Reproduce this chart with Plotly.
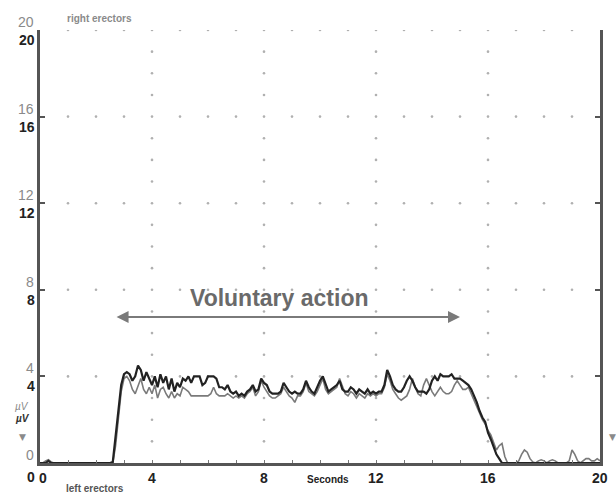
import numpy as np
import plotly.graph_objects as go

# ---- data (EMG amplitude, µV, sampled every 0.1 s from 0 to 20 s) ----
step = 0.1
black_vals = [
    0, 0, 0, 0.1, 0, 0, 0, 0, 0, 0,
    0, 0, 0, 0, 0, 0, 0, 0, 0, 0,
    0, 0, 0, 0, 0, 0, 0.05, 1.2, 2.6, 3.6,
    4.1, 4.2, 4.1, 3.8, 4.0, 4.5, 4.3, 3.8, 4.2, 3.9,
    3.6, 4.0, 3.5, 4.1, 3.7, 4.0, 3.4, 3.9, 3.3, 3.7,
    3.5, 3.9, 3.8, 4.0, 3.7, 4.0, 4.0, 4.0, 3.6, 3.7,
    4.0, 4.0, 4.0, 3.9, 3.5, 3.5, 3.4, 3.6, 3.3, 3.2,
    3.3, 3.1, 3.2, 3.1, 3.3, 3.4, 3.6, 3.3, 3.4, 3.9,
    3.7, 3.6, 3.3, 3.2, 3.2, 3.2, 3.3, 3.7, 3.5, 3.3,
    3.2, 3.3, 3.2, 3.2, 3.4, 3.8, 3.5, 3.3, 3.2, 3.5,
    3.8, 4.0, 3.6, 3.3, 3.4, 3.5, 3.6, 3.8, 3.4, 3.3,
    3.3, 3.5, 3.4, 3.2, 3.4, 3.3, 3.2, 3.4, 3.2, 3.3,
    3.2, 3.3, 3.3, 3.6, 4.3, 4.0, 3.6, 3.4, 3.3, 3.3,
    3.5, 3.8, 4.0, 3.8, 3.5, 3.3, 3.3, 3.3, 3.2, 3.4,
    3.8, 4.0, 3.8, 4.1, 4.0, 4.0, 4.0, 4.1, 3.9, 3.9,
    3.9, 3.8, 3.7, 3.6, 3.4, 3.1, 2.8, 2.4, 2.1, 1.9,
    1.4, 1.1, 0.7, 0.4, 0.2, 0, 0, 0, 0, 0,
    0, 0, 0, 0, 0, 0, 0, 0, 0, 0,
    0, 0, 0, 0, 0, 0, 0, 0, 0, 0,
    0, 0, 0, 0, 0, 0, 0, 0, 0, 0,
    0,
]
gray_vals = [
    0, 0, 0.1, 0.15, 0.05, 0, 0, 0, 0, 0,
    0, 0, 0, 0, 0, 0, 0, 0, 0, 0,
    0, 0, 0, 0, 0, 0, 0, 0.8, 2.2, 3.3,
    3.9, 4.0, 3.8, 3.4, 3.2, 3.6, 3.9, 3.4, 3.2, 3.5,
    3.2, 3.6, 3.0, 3.4, 3.5, 3.2, 3.0, 3.3, 3.0, 3.2,
    3.1, 3.5, 3.4, 3.3, 3.1, 3.1, 3.1, 3.1, 3.1, 3.1,
    3.1, 3.2, 3.5, 3.2, 3.1, 3.1, 3.1, 3.2, 3.1, 3.0,
    3.1, 3.0, 3.1, 3.0, 3.2, 3.3, 3.5, 3.1, 3.3, 3.8,
    3.5, 3.3, 3.1, 3.0, 3.0, 3.1, 3.2, 3.5, 3.3, 3.1,
    3.0, 2.8, 3.1, 3.1, 3.3, 3.7, 3.3, 3.2, 3.1, 3.3,
    3.6, 3.9, 3.4, 3.2, 3.3, 3.4, 3.5, 3.9, 3.5, 3.2,
    3.1, 3.3, 3.2, 3.0, 3.2, 3.1, 3.0, 3.2, 3.1, 3.2,
    3.1, 3.2, 3.2, 3.5, 4.1, 3.8, 3.4, 3.2, 3.0, 2.9,
    3.0, 3.1, 3.4, 3.9, 3.5, 3.2, 3.1, 3.6, 3.9, 3.6,
    3.3, 3.1, 3.3, 3.5, 3.3, 3.2, 3.2, 3.3, 3.6, 3.8,
    3.6, 3.4, 3.4, 3.5, 3.2, 2.9, 2.6, 2.3, 2.0, 1.8,
    1.5, 1.3, 0.9, 0.6, 0.8, 0.9, 0.3, 0, 0, 0,
    0, 0.1, 0.4, 0.6, 0.5, 0.2, 0.05, 0, 0.1, 0.15,
    0.1, 0, 0.1, 0.15, 0.1, 0, 0, 0, 0, 0.1,
    0.6, 0.4, 0.1, 0, 0.1, 0.2, 0.2, 0.1, 0.1, 0.2,
    0.1,
]
x_ticks = [0, 4, 8, 12, 16, 20]
y_ticks = [0, 4, 8, 12, 16, 20]
arrow_span = [2.68, 15.0]
arrow_level = 6.74
label_text = "Voluntary action"

t = np.round(np.arange(len(black_vals)) * step, 2)

fig = go.Figure()

# dotted grid (dots every 1 unit along lines at multiples of 4)
gx, gy = [], []
for yv in y_ticks[1:]:
    for xv in range(1, 20):
        gx.append(xv); gy.append(yv)
for xv in x_ticks[1:-1]:
    for yv in range(1, 20):
        if yv % 4:
            gx.append(xv); gy.append(yv)
fig.add_trace(go.Scatter(x=gx, y=gy, mode="markers",
                         marker=dict(size=2.6, color="#b0b0b0"),
                         hoverinfo="skip", showlegend=False))

fig.add_trace(go.Scatter(x=t, y=gray_vals, mode="lines",
                         line=dict(color="#7a7a7a", width=1.6),
                         showlegend=False))
fig.add_trace(go.Scatter(x=t, y=black_vals, mode="lines",
                         line=dict(color="#222222", width=2.2),
                         showlegend=False))

ann = []
bold = "Liberation Sans"
for v in y_ticks:
    ann.append(dict(x=0, y=v, xref="x", yref="y", text=str(v), showarrow=False,
                    xanchor="right", yanchor="bottom", xshift=-4, yshift=-2,
                    font=dict(family=bold, size=14, color="#8a8a8a")))
    ann.append(dict(x=0, y=v, xref="x", yref="y", text="<b>%d</b>" % v, showarrow=False,
                    xanchor="right", yanchor="top", xshift=-3, yshift=0 if v else -4,
                    font=dict(family=bold, size=14, color="#222222")))
for v in x_ticks:
    ann.append(dict(x=v, y=0, xref="x", yref="y", text="<b>%d</b>" % v, showarrow=False,
                    xanchor="center", yanchor="top", yshift=-5, xshift=3 if v == 0 else 0,
                    font=dict(family=bold, size=14, color="#222222")))
ann += [
    dict(x=10.3, y=0, xref="x", yref="y", text="<b>Seconds</b>", showarrow=False,
         yanchor="top", yshift=-9, font=dict(family=bold, size=10, color="#222222")),
    dict(x=0.85, y=0, xref="x", yref="y", text="<b>left erectors</b>", showarrow=False,
         xanchor="left", yanchor="top", yshift=-18, font=dict(family=bold, size=10, color="#555555")),
    dict(x=0.9, y=20, xref="x", yref="y", text="<b>right erectors</b>", showarrow=False,
         xanchor="left", yanchor="bottom", yshift=4, font=dict(family=bold, size=10, color="#8a8a8a")),
    dict(x=0, y=2.6, xref="x", yref="y", text="<i>µV</i>", showarrow=False,
         xanchor="center", xshift=-18, font=dict(family=bold, size=10, color="#8a8a8a")),
    dict(x=0, y=2.05, xref="x", yref="y", text="<b><i>µV</i></b>", showarrow=False,
         xanchor="center", xshift=-18, font=dict(family=bold, size=10, color="#333333")),
    dict(x=0, y=1.2, xref="x", yref="y", text="▼", showarrow=False,
         xanchor="center", xshift=-18, font=dict(family="DejaVu Sans", size=9, color="#8a8a8a")),
    dict(x=20, y=1.2, xref="x", yref="y", text="▼", showarrow=False,
         xanchor="center", xshift=12, font=dict(family="DejaVu Sans", size=9, color="#8a8a8a")),
    dict(x=(arrow_span[0] + arrow_span[1]) / 2 - 0.27, y=arrow_level + 0.9, xref="x", yref="y",
         text="<b>" + label_text + "</b>", showarrow=False,
         font=dict(family=bold, size=23, color="#6a6a6a")),
    dict(x=arrow_span[1], y=arrow_level, ax=arrow_span[0], ay=arrow_level,
         xref="x", yref="y", axref="x", ayref="y", text="", showarrow=True,
         arrowhead=2, startarrowhead=2, arrowside="end+start", arrowsize=1.2,
         arrowwidth=2, arrowcolor="#7a7a7a"),
]

fig.update_layout(
    width=616, height=497,
    margin=dict(l=40, r=16, t=30, b=34),
    plot_bgcolor="white", paper_bgcolor="white",
    annotations=ann,
    xaxis=dict(range=[0, 20], showgrid=False, zeroline=False, showline=True,
               linecolor="#555555", linewidth=3, ticks="inside", dtick=1,
               ticklen=3, tickcolor="#777777", showticklabels=False, fixedrange=True),
    yaxis=dict(range=[0, 20], showgrid=False, zeroline=False, showline=True,
               linecolor="#555555", linewidth=3, mirror="ticks", ticks="inside",
               dtick=4, ticklen=5, tickwidth=2, tickcolor="#555555",
               showticklabels=False, fixedrange=True),
)

fig.write_html("out.html")
